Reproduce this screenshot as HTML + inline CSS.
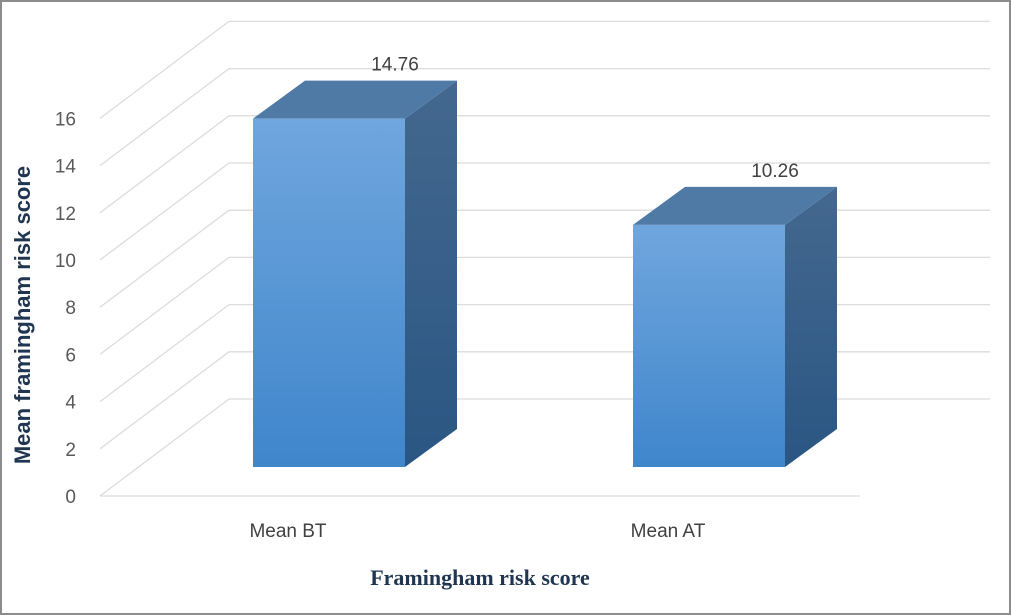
<!DOCTYPE html>
<html><head><meta charset="utf-8"><style>
body{margin:0;background:#fff}
svg{display:block}
</style></head><body>
<svg width="1011" height="615" viewBox="0 0 1011 615" xmlns="http://www.w3.org/2000/svg">
<defs>
<linearGradient id="fg" x1="0" y1="0" x2="0" y2="1"><stop offset="0" stop-color="#70a6de"/><stop offset="1" stop-color="#3f86cb"/></linearGradient>
<linearGradient id="sg" x1="0" y1="0" x2="0" y2="1"><stop offset="0" stop-color="#44688f"/><stop offset="1" stop-color="#2a5683"/></linearGradient>
</defs>
<rect x="1" y="1" width="1009" height="613" fill="#fff" stroke="#8c8c8c" stroke-width="2"/>
<g id="grid"></g>
<g id="ticks"></g>
<g id="bars"></g>
<text x="30" y="315" transform="rotate(-90 30 315)" text-anchor="middle" font-family="Liberation Sans, sans-serif" font-weight="bold" font-size="22" fill="#1f3550">Mean framingham risk score</text>
<text x="480" y="585" text-anchor="middle" font-family="Liberation Serif, serif" font-weight="bold" font-size="22" fill="#1f3550">Framingham risk score</text>
</svg>
<script>
const categories=["Mean BT","Mean AT"];
const values=[14.76,10.26];
const valueLabels=["14.76","10.26"];
const tickValues=[0,2,4,6,8,10,12,14,16];
const NS="http://www.w3.org/2000/svg";
const FY0=496,UNIT=23.6,DX=129,DY=-97,FX0=100,BX1=990;
const yFront=v=>FY0-v*UNIT;
const BAR_BASE=467,BDX=52,BDY=-38,BW=152;
const barX=i=>253+i*380;
function mk(tag,attrs,parent){const e=document.createElementNS(NS,tag);for(const k in attrs)e.setAttribute(k,attrs[k]);parent.appendChild(e);return e;}
const grid=document.getElementById('grid'),ticks=document.getElementById('ticks'),bars=document.getElementById('bars');
tickValues.forEach(v=>{
  const yf=yFront(v),yb=yf+DY;
  const d=mk('line',{x1:FX0,y1:yf,x2:FX0+DX,y2:yb,stroke:'#dcdcdc','stroke-width':1.3},grid);
  
  
  const h=mk('line',{x1:FX0+DX,y1:yb,x2:BX1,y2:yb,stroke:'#dcdcdc','stroke-width':1.3},grid);
  
  
  const t=mk('text',{x:76,y:yf+7,'text-anchor':'end','font-family':'Liberation Sans, sans-serif','font-size':19,fill:'#595959'},ticks);
  t.textContent=v;
  
  
});
const fl=mk('line',{x1:FX0,y1:FY0,x2:860,y2:FY0,stroke:'#dcdcdc','stroke-width':1.3},grid);


values.forEach((v,i)=>{
  const x=barX(i),top=BAR_BASE-v*UNIT;
  const g=mk('g',{},bars);
  
  
  mk('polygon',{points:`${x+BW},${top} ${x+BW+BDX},${top+BDY} ${x+BW+BDX},${BAR_BASE+BDY} ${x+BW},${BAR_BASE}`,fill:'url(#sg)'},g);
  mk('polygon',{points:`${x},${top} ${x+BDX},${top+BDY} ${x+BW+BDX},${top+BDY} ${x+BW},${top}`,fill:'#4f7aa6'},g);
  mk('rect',{x:x,y:top,width:BW,height:BAR_BASE-top,fill:'url(#fg)'},g);
  const lb=mk('text',{x:x+BW/2+BDX/2+40,y:top+BDY-10,'text-anchor':'middle','font-family':'Liberation Sans, sans-serif','font-size':19,fill:'#404040'},bars);
  lb.textContent=valueLabels[i];
  
  
  const c=mk('text',{x:x+35,y:537,'text-anchor':'middle','font-family':'Liberation Sans, sans-serif','font-size':19,fill:'#404040'},bars);
  c.textContent=categories[i];
  
  
});
</script>
</body></html>
